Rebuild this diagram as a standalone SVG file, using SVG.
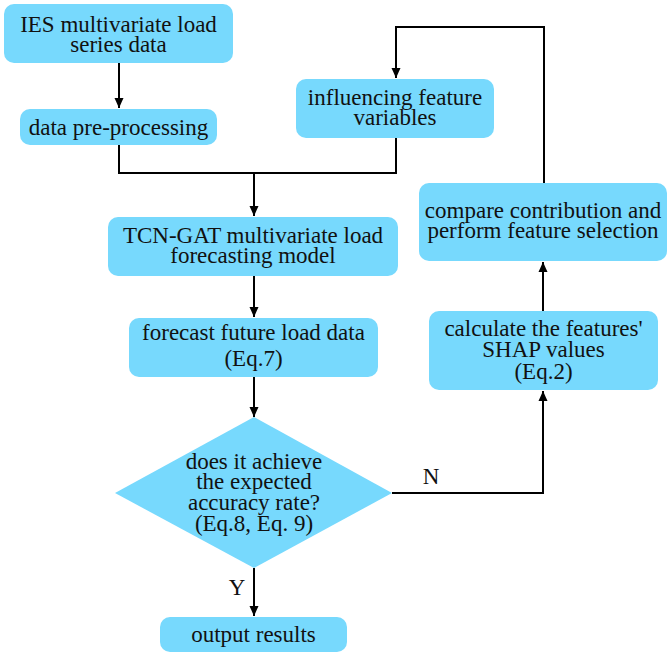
<svg xmlns="http://www.w3.org/2000/svg" width="671" height="656" viewBox="0 0 671 656">
<defs>
<marker id="ah" markerWidth="10" markerHeight="12" refX="10" refY="6" orient="auto" markerUnits="userSpaceOnUse">
<path d="M0,1.5 L10,6 L0,10.5 Z" fill="#000"/>
</marker>
<style>
.box{fill:#77d9fd;stroke:none}
.t{font-family:"Liberation Serif","Times New Roman",serif;font-size:23px;fill:#111;text-anchor:middle}
.c{fill:none;stroke:#000;stroke-width:2}
</style>
</defs>
<rect width="671" height="656" fill="#fff"/>
<g id="n1"><rect class="box" x="4" y="4" width="229" height="59" rx="10"/>
<text class="t" x="118.5" y="32">IES multivariate load</text><text class="t" x="118.5" y="52">series data</text></g>
<g id="n2"><rect class="box" x="20" y="109" width="197" height="36" rx="10"/>
<text class="t" x="118.5" y="135">data pre-processing</text></g>
<g id="n3"><rect class="box" x="296" y="79" width="198" height="59" rx="10"/>
<text class="t" x="395" y="105">influencing feature</text><text class="t" x="395" y="125">variables</text></g>
<g id="n4"><rect class="box" x="108" y="217" width="290" height="59" rx="10"/>
<text class="t" x="253" y="243">TCN-GAT multivariate load</text><text class="t" x="253" y="263">forecasting model</text></g>
<g id="n5"><rect class="box" x="129" y="318" width="249" height="59" rx="10"/>
<text class="t" x="253.5" y="340">forecast future load data</text><text class="t" x="253.5" y="366">(Eq.7)</text></g>
<g id="n6"><polygon class="box" points="254,417 392,493 254,568 115,493"/>
<text class="t" x="254" y="469">does it achieve</text><text class="t" x="254" y="489">the expected</text><text class="t" x="254" y="510">accuracy rate?</text><text class="t" x="254" y="531">(Eq.8, Eq. 9)</text></g>
<g id="n7"><rect class="box" x="160" y="617" width="187" height="35" rx="10"/>
<text class="t" x="253.5" y="642">output results</text></g>
<g id="n8"><rect class="box" x="429" y="311" width="229" height="79" rx="10"/>
<text class="t" x="543.5" y="336">calculate the features'</text><text class="t" x="543.5" y="357">SHAP values</text><text class="t" x="543.5" y="379">(Eq.2)</text></g>
<g id="n9"><rect class="box" x="419" y="183" width="248" height="78" rx="10"/>
<text class="t" x="543" y="218">compare contribution and</text><text class="t" x="543" y="238">perform feature selection</text></g>
<g id="connectors">
<path class="c" d="M119,63 V108" marker-end="url(#ah)"/>
<path class="c" d="M119,145 V173 H396 V138"/>
<path class="c" d="M254,173 V216" marker-end="url(#ah)"/>
<path class="c" d="M254,276 V317" marker-end="url(#ah)"/>
<path class="c" d="M254,377 V417" marker-end="url(#ah)"/>
<path class="c" d="M254,568 V616" marker-end="url(#ah)"/>
<path class="c" d="M392,493 H543 V391" marker-end="url(#ah)"/>
<path class="c" d="M543,311 V262" marker-end="url(#ah)"/>
<path class="c" d="M544,183 V27 H396 V78" marker-end="url(#ah)"/>
<text class="t" x="431" y="484">N</text>
<text class="t" x="237" y="595">Y</text>
</g>
</svg>
